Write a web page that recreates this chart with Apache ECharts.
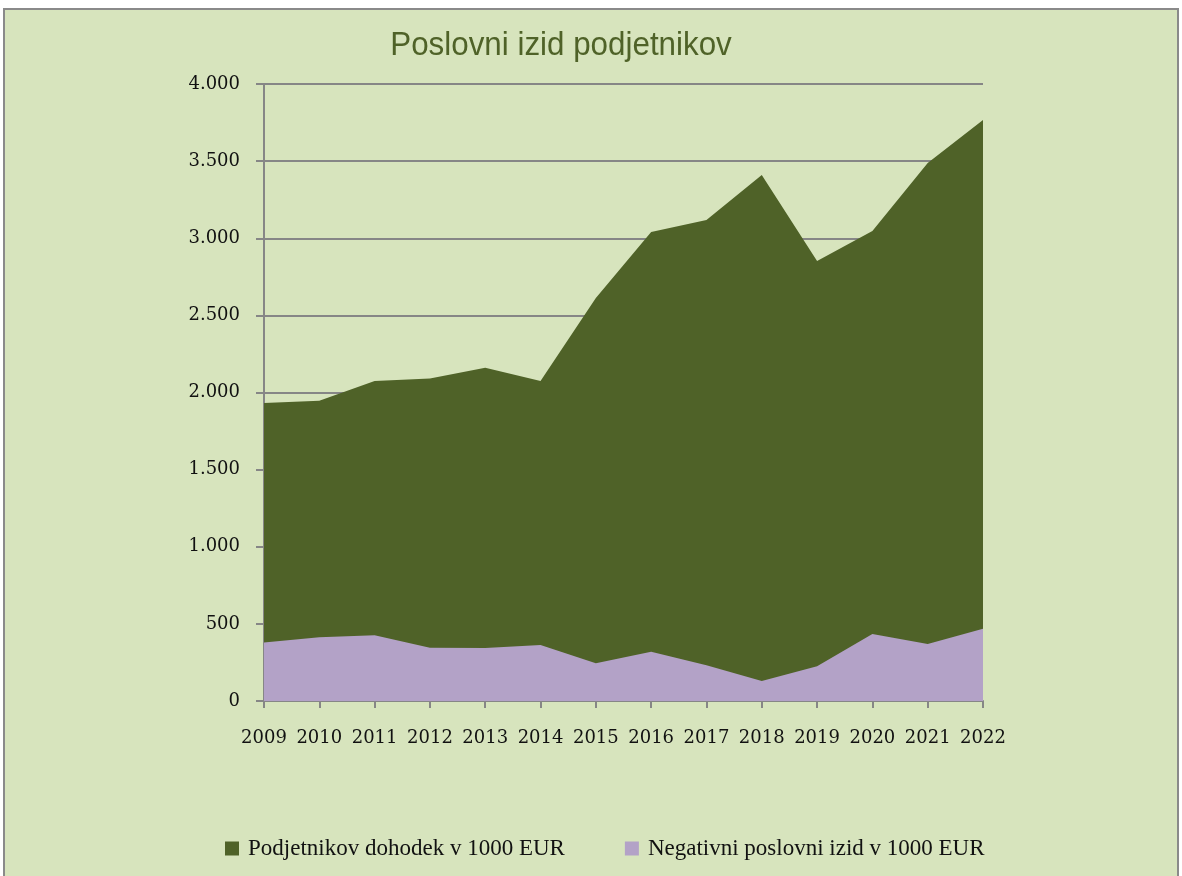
<!DOCTYPE html>
<html>
<head>
<meta charset="utf-8">
<script src="https://cdn.jsdelivr.net/npm/echarts@6/dist/echarts.min.js"></script>
<style>
html,body{margin:0;padding:0;background:#fff;}
#c{width:1182px;height:876px;}
</style>
</head>
<body>
<div id="c"></div>
<script>
const years = ['2009','2010','2011','2012','2013','2014','2015','2016','2017','2018','2019','2020','2021','2022'];
const dohodek = [1932,1947,2075,2090,2160,2075,2613,3040,3118,3410,2853,3047,3488,3767];
const negativni = [380,413,426,346,344,363,244,320,231,130,225,434,370,469];
const seriesNames = ['Podjetnikov dohodek v 1000 EUR','Negativni poslovni izid v 1000 EUR'];
const titleText = 'Poslovni izid podjetnikov';

const chart = echarts.init(document.getElementById('c'));
const serif = '"DejaVu Serif", "Liberation Serif", serif';
const lserif = '"Liberation Serif", "DejaVu Serif", serif';
chart.setOption({
  backgroundColor: '#ffffff',
  animation: false,
  graphic: [{
    type: 'rect', z: -10, silent: true,
    shape: {x: 4, y: 9, width: 1174, height: 880},
    style: {fill: '#D7E4BD', stroke: '#8a8a8a', lineWidth: 2}
  }, {
    type: 'text', x: 561, y: 46, scaleX: 0.95, silent: true,
    style: {text: titleText, fill: '#4F6228', textAlign: 'center', textVerticalAlign: 'middle',
      font: 'normal 33px "Liberation Sans", Arial, sans-serif'}
  }],
  legend: {
    top: 832, left: 220, itemGap: 60, icon: 'rect', itemWidth: 14, itemHeight: 14,
    textStyle: {fontFamily: lserif, fontSize: 23, color: '#111', padding: [0, 0, 0, 4]},
    data: seriesNames
  },
  grid: {left: 264, right: 199, top: 84, bottom: 175, containLabel: false},
  xAxis: {
    type: 'category', data: years, boundaryGap: false,
    axisLine: {lineStyle: {color: '#868686', width: 2}},
    axisTick: {show: true, length: 7, lineStyle: {color: '#868686', width: 2}},
    axisLabel: {fontFamily: serif, fontSize: 18, color: '#111', margin: 28, interval: 0}
  },
  yAxis: {
    type: 'value', min: 0, max: 4000, interval: 500,
    axisLine: {show: true, lineStyle: {color: '#868686', width: 2}},
    axisTick: {show: true, length: 8, lineStyle: {color: '#868686', width: 2}},
    splitLine: {lineStyle: {color: '#868686', width: 2}},
    axisLabel: {fontFamily: serif, fontSize: 18, color: '#111', margin: 24,
      formatter: v => v >= 1000 ? Math.floor(v/1000) + '.' + String(v % 1000).padStart(3,'0') : String(v)}
  },
  series: [
    {name: seriesNames[0], type: 'line', data: dohodek, symbol: 'none',
     lineStyle: {width: 0}, itemStyle: {color: '#4F6228'}, areaStyle: {color: '#4F6228', opacity: 1}, z: 2},
    {name: seriesNames[1], type: 'line', data: negativni, symbol: 'none',
     lineStyle: {width: 0}, itemStyle: {color: '#B3A2C7'}, areaStyle: {color: '#B3A2C7', opacity: 1}, z: 3}
  ]
});
</script>
</body>
</html>
